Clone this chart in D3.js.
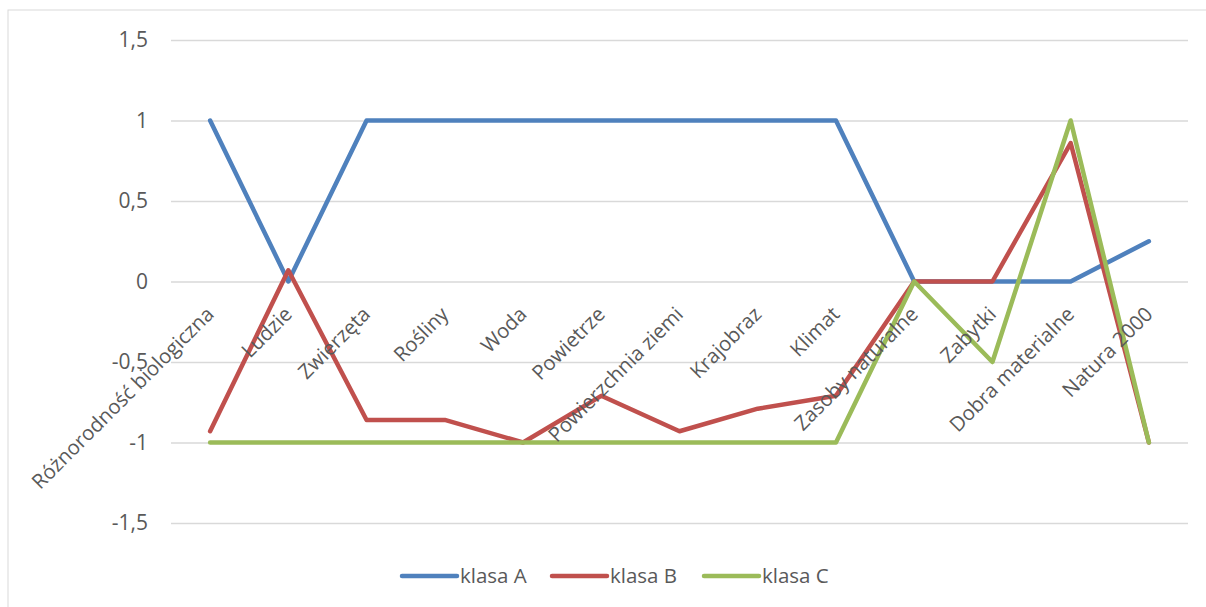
<!DOCTYPE html>
<html>
<head>
<meta charset="utf-8">
<script src="https://cdn.jsdelivr.net/npm/d3@7"></script>
<style>
  body { margin: 0; background: #fff; }
  svg { display: block; font-family: "Open Sans", sans-serif; }
</style>
</head>
<body>
<svg id="chart" width="1206" height="607"></svg>
<script>
// --- Data ---
const categories = [
  "Różnorodność biologiczna", "Ludzie", "Zwierzęta", "Rośliny", "Woda",
  "Powietrze", "Powierzchnia ziemi", "Krajobraz", "Klimat",
  "Zasoby naturalne", "Zabytki", "Dobra materialne", "Natura 2000"
];
const seriesNames = ["klasa A", "klasa B", "klasa C"];
const klasaA = [1, 0, 1, 1, 1, 1, 1, 1, 1, 0, 0, 0, 0.25];
const klasaB = [-0.93, 0.07, -0.86, -0.86, -1, -0.71, -0.93, -0.79, -0.71, 0, 0, 0.86, -1];
const klasaC = [-1, -1, -1, -1, -1, -1, -1, -1, -1, 0, -0.5, 1, -1];
const yTicks = [-1.5, -1, -0.5, 0, 0.5, 1, 1.5];
const colors = ["#4f81bd", "#c0504d", "#9bbb59"];

// --- Setup ---
const svg = d3.select("#chart");
const plot = { left: 171, right: 1188, top: 40, bottom: 523 };

const x = d3.scalePoint().domain(categories)
  .range([plot.left, plot.right]).padding(0.5);
const y = d3.scaleLinear().domain([-1.5, 1.5]).range([plot.bottom, plot.top]);

// outer border
svg.append("rect")
  .attr("x", 8).attr("y", 10).attr("width", 1206).attr("height", 620)
  .attr("fill", "none").attr("stroke", "#d9d9d9").attr("stroke-width", 1);

// gridlines + y labels
const yAxis = d3.axisLeft(y).tickValues(yTicks)
  .tickSize(-(plot.right - plot.left)).tickPadding(23)
  .tickFormat(d => String(d).replace(".", ","));
const gy = svg.append("g").attr("transform", `translate(${plot.left},0)`).call(yAxis);
gy.select(".domain").remove();
gy.selectAll(".tick line").attr("stroke", "#d9d9d9").attr("stroke-width", 1.3);
gy.selectAll(".tick text").attr("fill", "#595959").attr("font-size", 21)
  .attr("font-family", "Open Sans, sans-serif");

// series lines
const series = [klasaA, klasaB, klasaC];
const line = d3.line().x((d, i) => x(categories[i])).y(d => y(d));
series.forEach((vals, s) => {
  svg.append("path")
    .datum(vals)
    .attr("d", line)
    .attr("fill", "none")
    .attr("stroke", colors[s])
    .attr("stroke-width", 4.5)
    .attr("stroke-linejoin", "round")
    .attr("stroke-linecap", "round");
});

// category labels (rotated, just under y=0)
svg.append("g").selectAll("text")
  .data(categories)
  .join("text")
  .attr("transform", d => `translate(${x(d) + 5},${y(0) + 34}) rotate(-45)`)
  .attr("text-anchor", "end")
  .attr("fill", "#595959")
  .attr("font-size", 20.3)
  .text(d => d);

// legend
const legendX = [402, 552, 704];
const legend = svg.append("g").selectAll("g")
  .data(seriesNames)
  .join("g")
  .attr("transform", (d, i) => `translate(${legendX[i]},576)`);
legend.append("line")
  .attr("x1", 0).attr("x2", 55)
  .attr("stroke", (d, i) => colors[i]).attr("stroke-width", 4.5)
  .attr("stroke-linecap", "round");
legend.append("text")
  .attr("x", 58).attr("dy", "0.35em")
  .attr("fill", "#595959").attr("font-size", 20.5)
  .text(d => d);
</script>
</body>
</html>
